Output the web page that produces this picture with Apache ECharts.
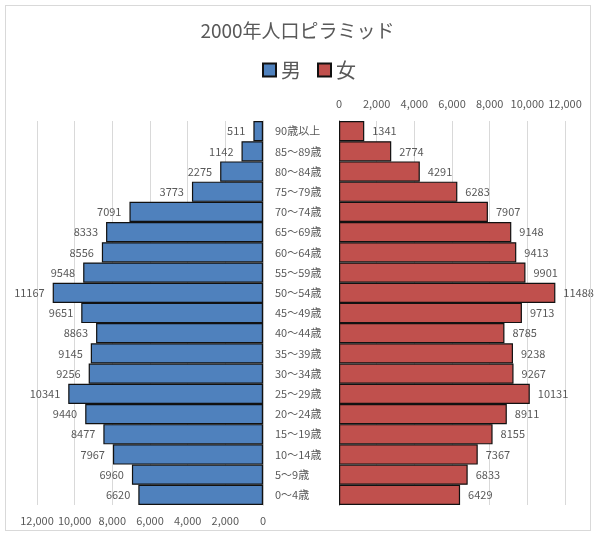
<!DOCTYPE html>
<html><head><meta charset="utf-8">
<script src="https://cdn.jsdelivr.net/npm/echarts@6/dist/echarts.min.js"></script>
<style>html,body{margin:0;padding:0;background:#fff}#c{width:595px;height:535px}
#b{position:absolute;left:5px;top:5px;width:584px;height:524px;border:1px solid #d9d9d9;pointer-events:none}</style>
</head><body><div id="c"></div><div id="b"></div>
<script>
const categories = ['0～4歳','5～9歳','10～14歳','15～19歳','20～24歳','25～29歳','30～34歳','35～39歳','40～44歳','45～49歳','50～54歳','55～59歳','60～64歳','65～69歳','70～74歳','75～79歳','80～84歳','85～89歳','90歳以上'];
const male = [6620,6960,7967,8477,9440,10341,9256,9145,8863,9651,11167,9548,8556,8333,7091,3773,2275,1142,511];
const female = [6429,6833,7367,8155,8911,10131,9267,9238,8785,9713,11488,9901,9413,9148,7907,6283,4291,2774,1341];
const seriesNames = ['男','女'];
const axisMax = 12000, axisStep = 2000;

const font = '"Noto Sans CJK JP", "Noto Sans", sans-serif';
const txt = '#595959';
const fmt = v => v.toLocaleString('en-US');
const chart = echarts.init(document.getElementById('c'));
chart.setOption({
  animation:false,
  textStyle:{fontFamily:font},
  title:{text:'2000年人口ピラミッド',left:'center',top:16,textStyle:{fontFamily:font,fontSize:19,fontWeight:'normal',color:txt}},
  legend:{top:55,left:257,icon:'rect',itemWidth:13,itemHeight:13,itemGap:16,textStyle:{fontFamily:font,fontSize:20,color:txt},data:seriesNames},
  grid:[{left:37,width:226,top:121,height:384},{left:339,width:226,top:121,height:384}],
  xAxis:[
    {gridIndex:0,type:'value',inverse:true,min:0,max:axisMax,interval:axisStep,position:'bottom',
     axisLabel:{formatter:fmt,color:txt,fontSize:11,margin:10,fontFamily:font},
     axisLine:{show:false},axisTick:{show:false},splitLine:{lineStyle:{color:'#d9d9d9'}}},
    {gridIndex:1,type:'value',min:0,max:axisMax,interval:axisStep,position:'top',
     axisLabel:{formatter:fmt,color:txt,fontSize:11,margin:12,fontFamily:font},
     axisLine:{show:false},axisTick:{show:false},splitLine:{lineStyle:{color:'#d9d9d9'}}}
  ],
  yAxis:[
    {gridIndex:0,type:'category',data:categories,position:'right',
     axisLabel:{show:false},axisTick:{show:false},axisLine:{lineStyle:{color:'#bfbfbf'}}},
    {gridIndex:1,type:'category',data:categories,position:'left',
     axisLabel:{color:txt,fontSize:11,align:'left',margin:64,fontFamily:font},
     axisTick:{show:false},axisLine:{lineStyle:{color:'#404040'}}}
  ],
  series:[
    {name:seriesNames[0],type:'bar',xAxisIndex:0,yAxisIndex:0,data:male,barCategoryGap:0,
     itemStyle:{color:'#4F81BD',borderColor:'#111',borderWidth:1.2},
     label:{show:true,position:'left',distance:8,color:txt,fontSize:11,fontFamily:font}},
    {name:seriesNames[1],type:'bar',xAxisIndex:1,yAxisIndex:1,data:female,barCategoryGap:0,
     itemStyle:{color:'#C0504D',borderColor:'#111',borderWidth:1.2},
     label:{show:true,position:'right',distance:8,color:txt,fontSize:11,fontFamily:font}}
  ]
});
</script></body></html>
